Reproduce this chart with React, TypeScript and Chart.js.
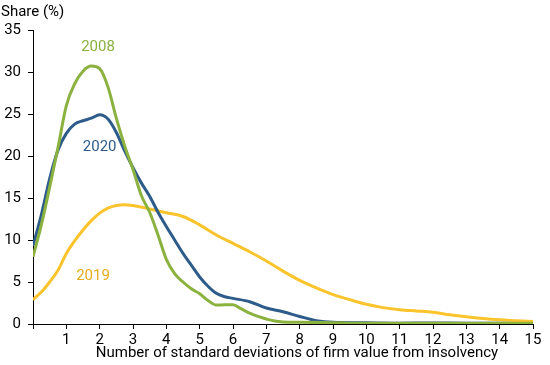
import React, { useEffect, useRef } from "react";
import { Chart, registerables } from "chart.js";

Chart.register(...registerables);

const xTicks = [0, 1, 2, 3, 4, 5, 6, 7, 8, 9, 10, 11, 12, 13, 14, 15];
const yTicks = [0, 5, 10, 15, 20, 25, 30, 35];

const x2008 = [0, 0.25, 0.5, 0.75, 1, 1.25, 1.5, 1.75, 2, 2.25, 2.5, 2.75, 3, 3.25, 3.5, 3.75, 4, 4.25, 4.5, 4.75, 5, 5.25, 5.5, 5.75, 6, 6.25, 6.5, 6.75, 7, 7.25, 7.5, 8, 9, 10, 11, 12, 13, 14, 15];
const y2008 = [8.0, 11.8, 16.3, 21.0, 26.0, 28.6, 30.1, 30.7, 30.4, 28.2, 24.5, 21.2, 18.4, 15.3, 13.3, 10.6, 7.7, 6.0, 5.0, 4.2, 3.6, 2.8, 2.25, 2.3, 2.3, 1.8, 1.3, 0.9, 0.6, 0.35, 0.25, 0.2, 0.15, 0.1, 0.1, 0.1, 0.1, 0.1, 0.1];

const x2020 = [0, 0.25, 0.5, 0.75, 1, 1.25, 1.5, 1.75, 2, 2.25, 2.5, 2.75, 3, 3.25, 3.5, 3.75, 4, 4.25, 4.5, 4.75, 5, 5.25, 5.5, 5.75, 6, 6.5, 7, 7.5, 8, 8.5, 9, 10, 11, 12, 13, 14, 15];
const y2020 = [9.3, 13.0, 17.3, 20.7, 22.7, 23.8, 24.2, 24.5, 24.9, 24.4, 22.8, 20.6, 18.6, 16.8, 15.2, 13.3, 11.6, 10.0, 8.4, 7.0, 5.6, 4.5, 3.65, 3.25, 3.05, 2.65, 1.9, 1.45, 0.9, 0.4, 0.2, 0.15, 0.1, 0.12, 0.1, 0.1, 0.05];

const x2019 = [0, 0.25, 0.5, 0.75, 1, 1.25, 1.5, 1.75, 2, 2.25, 2.5, 2.75, 3, 3.5, 4, 4.5, 5, 5.5, 6, 6.5, 7, 7.5, 8, 8.5, 9, 9.5, 10, 10.5, 11, 11.5, 12, 12.5, 13, 13.5, 14, 14.5, 15];
const y2019 = [2.9, 3.8, 5.0, 6.4, 8.4, 9.9, 11.2, 12.3, 13.2, 13.8, 14.1, 14.2, 14.1, 13.7, 13.25, 12.8, 11.8, 10.6, 9.6, 8.6, 7.5, 6.3, 5.2, 4.3, 3.5, 2.9, 2.35, 1.95, 1.7, 1.55, 1.4, 1.1, 0.85, 0.65, 0.5, 0.4, 0.3];

const seriesNames = ["2008", "2020", "2019"];
const seriesColors = ["#8BB23F", "#2E5C8A", "#FBC42D"];
const labelColors = ["#8BB23F", "#2E5C8A", "#E8AA1E"];
const labelX = [1.95, 2.0, 1.8];
const labelY = [32.9, 21.0, 5.7];

const yTitle = "Share (%)";
const xTitle = "Number of standard deviations of firm value from insolvency";

const FONT = "Roboto";
const SIZE = 15;

function zip(xs: number[], ys: number[]) {
  return xs.map((x, i) => ({ x, y: ys[i] }));
}

const textPlugin = {
  id: "customText",
  afterDatasetsDraw(chart: any) {
    const { ctx, scales } = chart;
    ctx.save();
    ctx.font = `${SIZE}px ${FONT}`;
    ctx.textAlign = "center";
    ctx.textBaseline = "middle";
    seriesNames.forEach((name, i) => {
      ctx.fillStyle = labelColors[i];
      ctx.fillText(name, scales.x.getPixelForValue(labelX[i]), scales.y.getPixelForValue(labelY[i]));
    });
    ctx.fillStyle = "#000";
    ctx.textAlign = "left";
    ctx.fillText(yTitle, 1, 12);
    ctx.textAlign = "center";
    ctx.fillText(xTitle, 297, 353);
    ctx.restore();
  },
};

export default function App() {
  const ref = useRef<HTMLCanvasElement>(null);
  useEffect(() => {
    document.body.style.margin = "0";
    const chart = new Chart(ref.current!, {
      type: "line",
      data: {
        datasets: [
          { label: seriesNames[0], data: zip(x2008, y2008), borderColor: seriesColors[0] },
          { label: seriesNames[1], data: zip(x2020, y2020), borderColor: seriesColors[1] },
          { label: seriesNames[2], data: zip(x2019, y2019), borderColor: seriesColors[2] },
        ].map((d) => ({ ...d, borderWidth: 3, pointRadius: 0, cubicInterpolationMode: "monotone" as const, fill: false })),
      },
      options: {
        animation: false,
        responsive: false,
        layout: { padding: { top: 30, right: 17, left: 0, bottom: 0 } },
        plugins: { legend: { display: false }, tooltip: { enabled: false } },
        scales: {
          x: {
            type: "linear",
            min: 0,
            max: 15,
            afterFit: (s: any) => { s.height = 41; },
            afterBuildTicks: (s: any) => { s.ticks = xTicks.map((v) => ({ value: v })); },
            grid: { drawOnChartArea: false, color: "#000", tickLength: 5 },
            border: { color: "#000", width: 1 },
            ticks: {
              color: "#000",
              font: { family: FONT, size: SIZE },
              padding: 2,
              maxRotation: 0,
              autoSkip: false,
              callback: (v: any) => (v === 0 ? "" : String(v)),
            },
          },
          y: {
            min: 0,
            max: 35,
            afterFit: (s: any) => { s.width = 33; },
            afterBuildTicks: (s: any) => { s.ticks = yTicks.map((v) => ({ value: v })); },
            grid: { drawOnChartArea: false, color: "#000", tickLength: 5 },
            border: { color: "#000", width: 1 },
            ticks: { color: "#000", font: { family: FONT, size: SIZE }, padding: 7 },
          },
        },
      },
      plugins: [textPlugin],
    });
    return () => chart.destroy();
  }, []);
  return <canvas ref={ref} width={550} height={365} />;
}
